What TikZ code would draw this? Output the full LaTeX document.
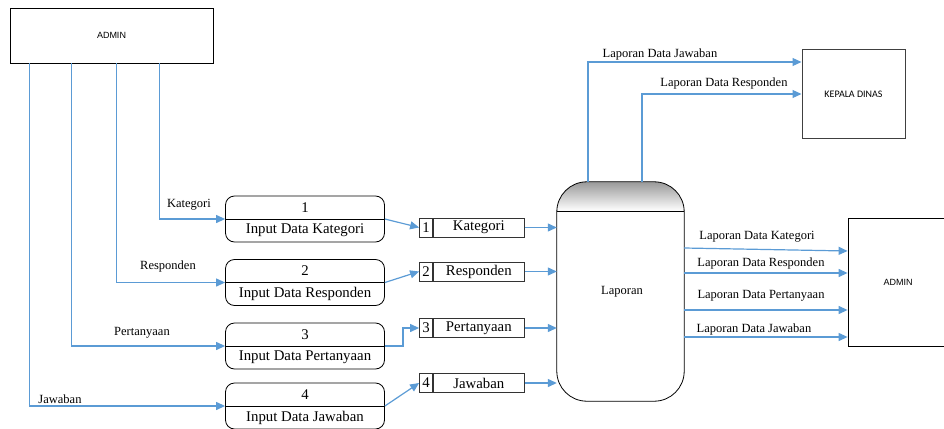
\documentclass[tikz,border=0pt]{standalone}
\usepackage{fontspec}
\setmainfont{Liberation Serif}
\newfontfamily\serfont{Liberation Serif}
\newfontfamily\entfont{Liberation Sans}
\newfontfamily\kepfont{Carlito}
\usetikzlibrary{arrows.meta}
\definecolor{flujo}{RGB}{91,155,213}

\begin{document}
\begin{tikzpicture}[x=1pt,y=-1pt,
    flecha/.style={draw=flujo, line width=1.2pt, -{Triangle[length=9pt,width=8pt]}},
    entidad/.style={draw, line width=0.8pt, inner sep=0pt, font=\entfont\fontsize{9}{10}\selectfont},
    proceso/.style={draw, line width=0.8pt, rounded corners=9pt, minimum width=159pt, minimum height=46pt, inner sep=0pt},
    almacen/.style={draw=black!80, line width=0.8pt, minimum height=19pt, inner sep=0pt, font=\serfont\fontsize{14.8}{16}\selectfont},
    etiqueta/.style={inner sep=0pt, font=\serfont\fontsize{12.5}{14}\selectfont},
    texto/.style={font=\serfont\fontsize{14.8}{16}\selectfont}
]
    \useasboundingbox (0,0) rectangle (944,428);

    % Entidades externas
    \node[entidad, minimum width=203pt, minimum height=55pt] (admin) at (111.5,35.5) {ADMIN};
    \node[entidad, minimum width=103pt, minimum height=88pt, line width=1pt, draw=black!75,
          font=\kepfont\fontsize{10}{11}\selectfont] (kepala) at (853.5,94) {KEPALA DINAS};
    \node[entidad, minimum width=100pt, minimum height=128pt] (adminb) at (898,282) {ADMIN};

    % Procesos y almacenes de datos
    \foreach \n/\y/\ys/\txt in {1/219/227.5/Kategori, 2/282.5/271.5/Responden,
                                3/346/328/Pertanyaan, 4/406/383/Jawaban} {
        \node[proceso] (p\n) at (305,\y) {};
        \draw[line width=0.8pt] (p\n.west) -- (p\n.east);
        \node[texto] at ([yshift=11.5pt]p\n.center) {\n};
        \node[texto] at ([yshift=-11.5pt]p\n.center) {Input Data \txt};
        \node[almacen, minimum width=13pt] (n\n) at (426,\ys) {\n};
        \node[almacen, minimum width=91pt, anchor=west] (s\n) at (n\n.east) {\txt};
    }

    % Almacen Laporan
    \node[minimum width=127pt, minimum height=219pt, inner sep=0pt] (lap) at (620.5,291.5) {};
    \shade[top color=black!40, bottom color=white]
        (lap.west |- 0,211) [rounded corners=30pt] -- (lap.north west) -- (lap.north east)
        [sharp corners] -- (lap.east |- 0,211) -- cycle;
    \draw[line width=0.8pt, rounded corners=30pt] (lap.north west) rectangle (lap.south east);
    \draw[line width=0.8pt] (lap.west |- 0,211) -- (lap.east |- 0,211);
    \node[etiqueta] at (622,292) {Laporan};

    % Flujos desde ADMIN
    \draw[flecha] ([xshift=150pt]admin.south west) |- (p1.west);
    \draw[flecha] ([xshift=107pt]admin.south west) |- (p2.west);
    \draw[flecha] ([xshift=62pt]admin.south west) |- (p3.west);
    \draw[flecha] ([xshift=20pt]admin.south west) |- (p4.west);
    \node[etiqueta] at (189,205) {Kategori};
    \node[etiqueta] at (168,266) {Responden};
    \node[etiqueta] at (142,333) {Pertanyaan};
    \node[etiqueta] at (60,399) {Jawaban};

    % Proceso -> almacen
    \draw[flecha] (p1.east) -- (n1.west);
    \draw[flecha] (p2.east) -- (n2.west);
    \draw[flecha] (p3.east) -- ++(18,0) |- (n3.west);
    \draw[flecha] (p4.east) -- (n4.west);

    % Almacen -> Laporan
    \foreach \n in {1,...,4}
        \draw[flecha] (s\n.east) -- (s\n.east -| lap.west);

    % Laporan -> ADMIN
    \draw[flecha] (lap.east |- 0,248) -- (adminb.west |- 0,251);
    \foreach \y in {273,310,337}
        \draw[flecha] (lap.east |- 0,\y) -- (adminb.west |- 0,\y);
    \node[etiqueta] at (757,237) {Laporan Data Kategori};
    \node[etiqueta] at (761,263) {Laporan Data Responden};
    \node[etiqueta] at (761,296) {Laporan Data Pertanyaan};
    \node[etiqueta] at (754,329) {Laporan Data Jawaban};

    % Laporan -> KEPALA DINAS
    \draw[flecha] (lap.north -| 588,0) |- ([yshift=32pt]kepala.west);
    \draw[flecha] (lap.north -| 642,0) |- (kepala.west);
    \node[etiqueta] at (660,54) {Laporan Data Jawaban};
    \node[etiqueta] at (724,83) {Laporan Data Responden};
\end{tikzpicture}
\end{document}
